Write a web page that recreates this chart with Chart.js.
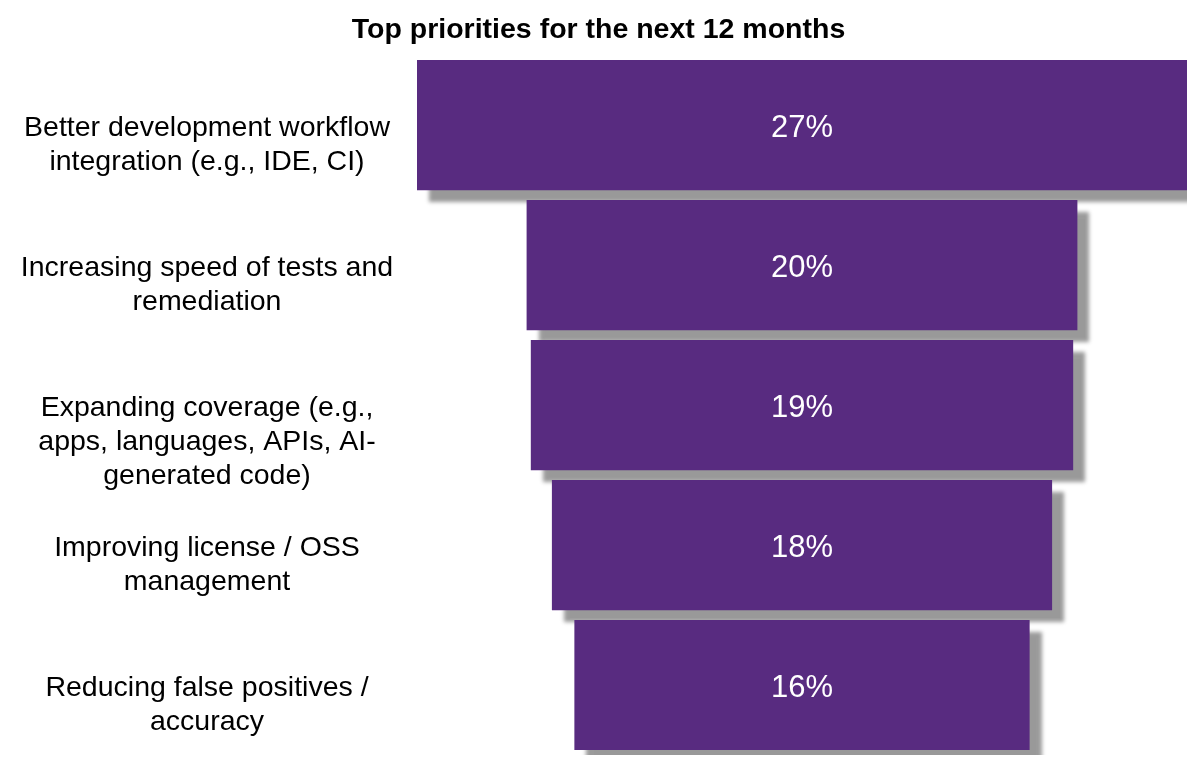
<!DOCTYPE html>
<html>
<head>
<meta charset="utf-8">
<script src="https://cdn.jsdelivr.net/npm/chart.js@4.4.1/dist/chart.umd.min.js"></script>
<style>
  body { margin: 0; background: #fff; }
  #wrap { width: 1200px; height: 769px; }
</style>
</head>
<body>
<div id="wrap"><canvas id="myChart" width="1200" height="769"></canvas></div>
<script>
// Данные
var categories = [
    ['Better development workflow', 'integration (e.g., IDE, CI)'],
    ['Increasing speed of tests and', 'remediation'],
    ['Expanding coverage (e.g.,', 'apps, languages, APIs, AI-', 'generated code)'],
    ['Improving license / OSS', 'management'],
    ['Reducing false positives /', 'accuracy']
];
var shares = [27.4, 19.6, 19.3, 17.8, 16.2];
var chartTitle = 'Top priorities for the next 12 months';

var FONT = "'Liberation Sans', Arial, sans-serif";
var half = Math.max.apply(null, shares) / 2;

// Тень под столбцами
var shadowPlugin = {
    id: 'shadow',
    beforeDatasetsDraw: function(chart) {
        var ctx = chart.ctx;
        ctx.save();
        ctx.shadowColor = 'rgba(0, 0, 0, 0.4)';
        ctx.shadowOffsetX = 12;
        ctx.shadowOffsetY = 12;
        ctx.shadowBlur = 4;
    },
    afterDatasetsDraw: function(chart) {
        chart.ctx.restore();
    }
};

// Подписи: проценты и категории
var labelsPlugin = {
    id: 'labels',
    afterDraw: function(chart) {
        var ctx = chart.ctx;
        var yScale = chart.scales.y;
        var meta = chart.getDatasetMeta(0);
        ctx.save();
        ctx.textBaseline = 'middle';
        ctx.textAlign = 'center';

        ctx.fillStyle = '#ffffff';
        ctx.font = '31px ' + FONT;
        meta.data.forEach(function(bar, i) {
            var c = bar.getCenterPoint();
            ctx.fillText(Math.round(shares[i]) + '%', c.x, c.y + 3);
        });

        ctx.fillStyle = '#000000';
        ctx.font = '28.5px ' + FONT;
        categories.forEach(function(lines, i) {
            var y = yScale.getPixelForValue(i) + 3;
            lines.forEach(function(line, k) {
                ctx.fillText(line, yScale.right - 210, y + k * 34);
            });
        });
        ctx.restore();
    }
};

var ctx = document.getElementById('myChart').getContext('2d');

new Chart(ctx, {
    type: 'bar',
    data: {
        labels: categories.map(function(c) { return c.join(' '); }),
        datasets: [{
            data: shares.map(function(v) { return [-v / 2, v / 2]; }),
            backgroundColor: '#582B80',
            borderWidth: 0,
            barPercentage: 0.93,
            categoryPercentage: 1
        }]
    },
    options: {
        indexAxis: 'y',
        responsive: false,
        animation: false,
        layout: { padding: { left: 10, right: 13, bottom: 14 } },
        plugins: {
            legend: { display: false },
            tooltip: { enabled: false },
            title: {
                display: true,
                text: chartTitle,
                color: '#000',
                font: { family: FONT, size: 28.5, weight: 'bold' },
                padding: { top: 13, bottom: 8 }
            }
        },
        scales: {
            x: {
                display: false,
                min: -half,
                max: half
            },
            y: {
                grid: { display: false, drawTicks: false },
                border: { display: false },
                ticks: { display: false },
                afterFit: function(scale) { scale.width = 407; }
            }
        }
    },
    plugins: [shadowPlugin, labelsPlugin]
});
</script>
</body>
</html>
